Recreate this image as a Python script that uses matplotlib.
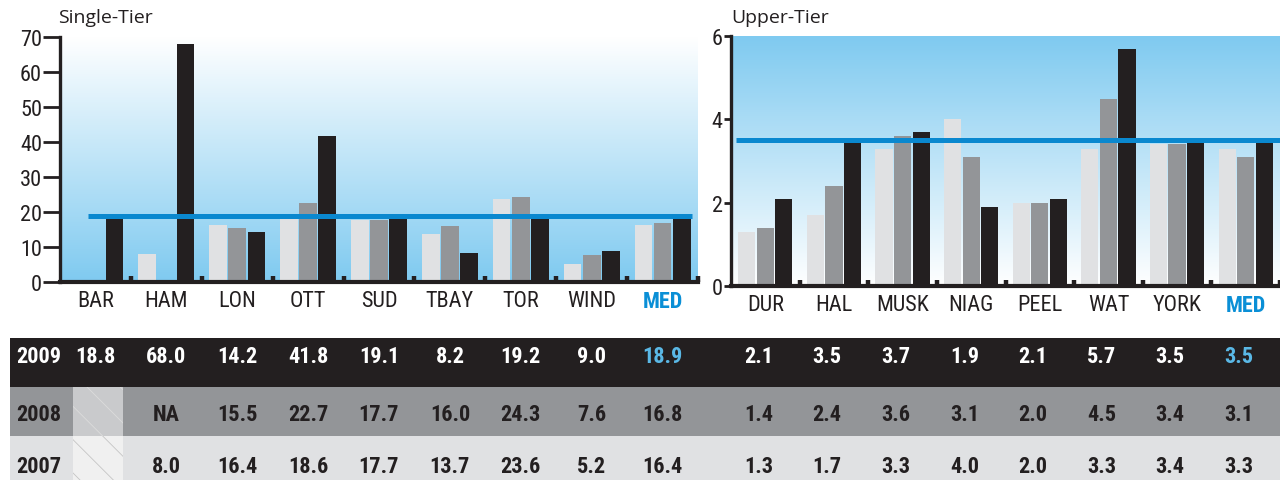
import numpy as np
import matplotlib
matplotlib.use("Agg")
import matplotlib.pyplot as plt
from matplotlib import font_manager, transforms
from matplotlib.colors import LinearSegmentedColormap
from matplotlib.patches import Rectangle

single_tier = ["BAR", "HAM", "LON", "OTT", "SUD", "TBAY", "TOR", "WIND", "MED"]
single_2009 = [18.8, 68.0, 14.2, 41.8, 19.1, 8.2, 19.2, 9.0, 18.9]
single_2008 = [None, "NA", 15.5, 22.7, 17.7, 16.0, 24.3, 7.6, 16.8]
single_2007 = [None, 8.0, 16.4, 18.6, 17.7, 13.7, 23.6, 5.2, 16.4]
single_median = 18.9

upper_tier = ["DUR", "HAL", "MUSK", "NIAG", "PEEL", "WAT", "YORK", "MED"]
upper_2009 = [2.1, 3.5, 3.7, 1.9, 2.1, 5.7, 3.5, 3.5]
upper_2008 = [1.4, 2.4, 3.6, 3.1, 2.0, 4.5, 3.4, 3.1]
upper_2007 = [1.3, 1.7, 3.3, 4.0, 2.0, 3.3, 3.4, 3.3]
upper_median = 3.5

years = ["2009", "2008", "2007"]

# Colours
c_light = "#e0e1e3"
c_mid = "#939598"
c_dark = "#231f20"
c_line = "#0a88cf"
c_med = "#0a8fd6"
c_med_tab = "#5ab8e6"
c_sky = "#7fcaf0"

# Fonts - prefer a narrow sans like the original
names = {f.name for f in font_manager.fontManager.ttflist}
narrow = "Liberation Sans"
for cand in ["Liberation Sans Narrow", "Arial Narrow", "Roboto Condensed",
             "Archivo Narrow", "PT Sans Narrow", "Pragati Narrow"]:
    if cand in names:
        narrow = cand
        break
title_font = "Open Sans"

W, H = 1280, 481


def box(left, top, right, bottom):
    return [left / W, 1 - bottom / H, (right - left) / W, (bottom - top) / H]


def as_float(vals):
    return np.array([v if isinstance(v, (int, float)) else np.nan for v in vals], dtype=float)


def draw_panel(ax, cats, v07, v08, v09, median, ymax, yticks, top_col, bot_col,
               tick_len, line_start, line_end):
    n = len(cats)
    x = np.arange(n) + 0.5
    cmap = LinearSegmentedColormap.from_list("bg", [bot_col, top_col])
    grad = np.linspace(0, 1, 256).reshape(-1, 1)
    ax.imshow(grad, extent=[0, n, 0, ymax], origin="lower", aspect="auto", cmap=cmap, zorder=0)

    w, off = 0.25, 0.27
    ax.bar(x - off, as_float(v07), w, color=c_light, zorder=2)
    ax.bar(x, as_float(v08), w, color=c_mid, zorder=2)
    ax.bar(x + off, as_float(v09), w, color=c_dark, zorder=2)
    ax.hlines(median, line_start, line_end, color=c_line, lw=3.6, zorder=4)

    ax.set_xlim(0, n)
    ax.set_ylim(0, ymax)
    for s in ["top", "right"]:
        ax.spines[s].set_visible(False)
    ax.spines["left"].set_linewidth(2.4)
    ax.spines["bottom"].set_linewidth(3.0)
    ax.spines["left"].set_color(c_dark)
    ax.spines["bottom"].set_color(c_dark)

    ax.set_yticks(yticks)
    ax.tick_params(axis="y", length=tick_len, width=2.0, color=c_dark, pad=1,
                   labelsize=16, labelcolor=c_dark)
    # notches between groups and labels at group centres
    ax.set_xticks(np.arange(1, n + 1))
    ax.set_xticklabels([])
    ax.tick_params(axis="x", which="major", direction="in", length=4, width=3.2, color=c_dark)
    ax.set_xticks(x, minor=True)
    ax.set_xticklabels(cats, minor=True)
    ax.tick_params(axis="x", which="minor", length=0, pad=6, labelsize=16, labelcolor=c_dark)
    for lab in ax.get_yticklabels() + ax.get_xticklabels(minor=True):
        lab.set_fontfamily(narrow)
    med = ax.get_xticklabels(minor=True)[-1]
    med.set_color(c_med)
    med.set_fontweight("bold")


fig = plt.figure(figsize=(W / 100, H / 100), dpi=100)

ax1 = fig.add_axes(box(60, 38, 698, 283))
draw_panel(ax1, single_tier, single_2007, single_2008, single_2009, single_median,
           70, range(0, 71, 10), "#ffffff", c_sky, 12, 0.4, 8.92)

ax2 = fig.add_axes(box(731, 37, 1280, 287))
draw_panel(ax2, upper_tier, upper_2007, upper_2008, upper_2009, upper_median,
           6, [0, 2, 4, 6], c_sky, "#ffffff", 5, 0.07, 8.0)

fig.text(58 / W, 1 - 18 / H, "Single-Tier", family=title_font, fontsize=14,
         color=c_dark, va="center", ha="left")
fig.text(731 / W, 1 - 18 / H, "Upper-Tier", family=title_font, fontsize=14,
         color=c_dark, va="center", ha="left")

# Table below the charts
tab_h = H - 339
axt = fig.add_axes([0, 0, 1, tab_h / H])
axt.set_xlim(0, W)
axt.set_ylim(tab_h, 0)
axt.axis("off")

row_cols = [c_dark, c_mid, c_light]
row_text = ["white", c_dark, c_dark]
row_top = [0, 49, 98]
row_txt_y = [18, 76, 128]
hatch_cols = ["", "#c9cacc", "#f0f0f0"]
hatch_edge = ["", "#dcdcdc", "#c4c4c4"]

left_rows = [single_2009, single_2008, single_2007]
right_rows = [upper_2009, upper_2008, upper_2007]

tr_left = transforms.blended_transform_factory(ax1.transData, axt.transData)
tr_right = transforms.blended_transform_factory(ax2.transData, axt.transData)

plt.rcParams["hatch.linewidth"] = 0.6
tab_fs = 16

for r in range(3):
    axt.add_patch(Rectangle((10, row_top[r]), W - 10, 49, color=row_cols[r], zorder=1, lw=0))
    axt.text(39, row_txt_y[r], years[r], color=row_text[r], fontsize=tab_fs,
             fontweight="bold", family=narrow, ha="center", va="center", zorder=3)
    for i, v in enumerate(left_rows[r]):
        if v is None:
            axt.add_patch(Rectangle((i + 0.18, row_top[r]), 0.71, 49, transform=tr_left,
                                    facecolor=hatch_cols[r], edgecolor=hatch_edge[r],
                                    hatch="\\", lw=0, zorder=2))
            continue
        txt = v if isinstance(v, str) else f"{v:.1f}"
        col = c_med_tab if (r == 0 and i == len(single_tier) - 1) else row_text[r]
        axt.text(i + 0.5, row_txt_y[r], txt, transform=tr_left, color=col, fontsize=tab_fs,
                 fontweight="bold", family=narrow, ha="center", va="center", zorder=3)
    for i, v in enumerate(right_rows[r]):
        col = c_med_tab if (r == 0 and i == len(upper_tier) - 1) else row_text[r]
        axt.text(i + 0.4, row_txt_y[r], f"{v:.1f}", transform=tr_right, color=col,
                 fontsize=tab_fs, fontweight="bold", family=narrow, ha="center",
                 va="center", zorder=3)

fig.savefig("out.png", dpi=100)
